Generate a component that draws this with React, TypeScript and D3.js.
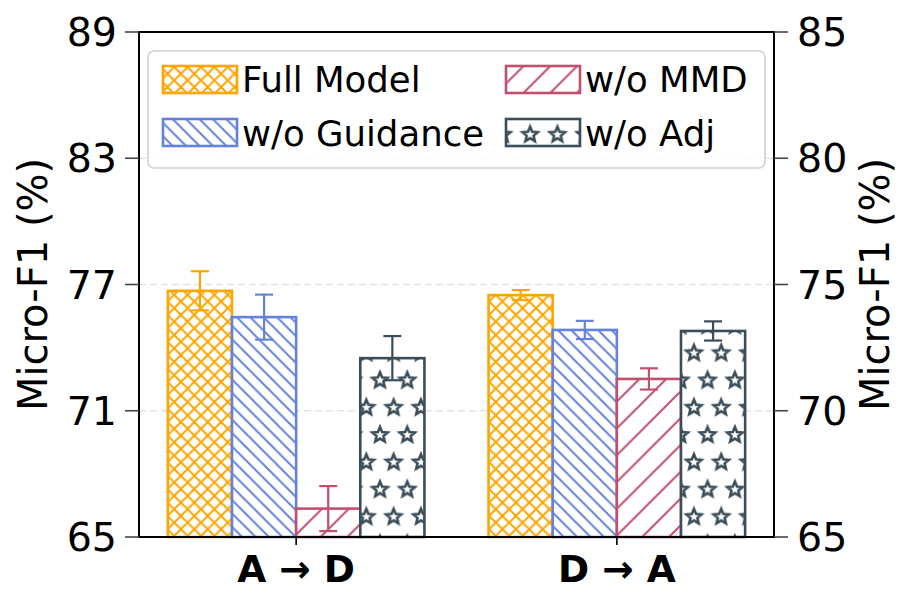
import React from 'react';
import * as d3 from 'd3';

// chart values
const CATEGORIES = ['A \u2192 D', 'D \u2192 A'];
const METHODS = ['Full Model', 'w/o Guidance', 'w/o MMD', 'w/o Adj'];
const A_TO_D = [76.7, 75.45, 66.35, 73.5];
const A_TO_D_ERR = [0.93, 1.07, 1.07, 1.05];
const D_TO_A = [74.58, 73.2, 71.26, 73.16];
const D_TO_A_ERR = [0.2, 0.36, 0.42, 0.38];
const LEFT_TICKS = [65, 71, 77, 83, 89];
const RIGHT_TICKS = [65, 70, 75, 80, 85];

const COLORS = ['#FFA500', '#6482DC', '#C1506F', '#3B4D59'];
const PATTERNS = ['hatch-x', 'hatch-nw', 'hatch-ne', 'hatch-star'];

const W = 914;
const H = 609;
const FONT = '"DejaVu Sans", sans-serif';

function starPoints(cx: number, cy: number, R: number) {
  const pts: string[] = [];
  for (let i = 0; i < 10; i++) {
    const a = -Math.PI / 2 + (i * Math.PI) / 5;
    const r = i % 2 === 0 ? R : R * 0.45;
    pts.push(`${(cx + r * Math.cos(a)).toFixed(2)},${(cy + r * Math.sin(a)).toFixed(2)}`);
  }
  return pts.join(' ');
}

function Patterns() {
  const s = 13.4; // dense hatch spacing
  const s2 = 26.8; // sparse hatch spacing
  const sw = 2;
  const sx = 27.3;
  const sy = 54.6;
  return (
    <defs>
      <pattern id="hatch-x" patternUnits="userSpaceOnUse" width={s} height={s}>
        <path
          d={`M0,${s} L${s},0 M${-s / 2},${s / 2} L${s / 2},${-s / 2} M${s / 2},${1.5 * s} L${1.5 * s},${s / 2}
              M0,0 L${s},${s} M${-s / 2},${s / 2} L${s / 2},${1.5 * s} M${s / 2},${-s / 2} L${1.5 * s},${s / 2}`}
          stroke={COLORS[0]} strokeWidth={sw} fill="none" />
      </pattern>
      <pattern id="hatch-nw" patternUnits="userSpaceOnUse" width={s} height={s}>
        <path d={`M0,0 L${s},${s} M${-s / 2},${s / 2} L${s / 2},${1.5 * s} M${s / 2},${-s / 2} L${1.5 * s},${s / 2}`}
          stroke={COLORS[1]} strokeWidth={sw} fill="none" />
      </pattern>
      <pattern id="hatch-ne" patternUnits="userSpaceOnUse" width={s2} height={s2}>
        <path d={`M0,${s2} L${s2},0 M${-s2 / 2},${s2 / 2} L${s2 / 2},${-s2 / 2} M${s2 / 2},${1.5 * s2} L${1.5 * s2},${s2 / 2}`}
          stroke={COLORS[2]} strokeWidth={sw} fill="none" />
      </pattern>
      <pattern id="hatch-star" patternUnits="userSpaceOnUse" width={sx} height={sy}
        patternTransform="translate(25.1,52.8)">
        {[[0, 0], [sx, 0], [0, sy], [sx, sy], [sx / 2, sy / 2]].map(([cx, cy], i) => (
          <polygon key={i} points={starPoints(cx, cy, 8)} fill="none"
            stroke={COLORS[3]} strokeWidth={2.6} strokeLinejoin="miter" />
        ))}
      </pattern>
    </defs>
  );
}

export default function App() {
  const left = 139;
  const right = 774;
  const top = 32;
  const bottom = 537;

  const x = d3.scaleLinear().domain([-0.49, 1.49]).range([left, right]);
  const yL = d3.scaleLinear().domain([65, 89]).range([bottom, top]);
  const yR = d3.scaleLinear().domain([65, 85]).range([bottom, top]);
  const barW = 0.2;
  const offsets = METHODS.map((_, i) => (i - 1.5) * barW);

  const groups = [
    { values: A_TO_D, errs: A_TO_D_ERR, y: yL, center: 0 },
    { values: D_TO_A, errs: D_TO_A_ERR, y: yR, center: 1 },
  ];

  const bw = x(barW) - x(0);

  return (
    <svg width={W} height={H} viewBox={`0 0 ${W} ${H}`}
      style={{ position: 'absolute', left: 0, top: 0, background: '#fff' }}>
      <Patterns />
      <rect x={0} y={0} width={W} height={H} fill="#fff" />

      {/* grid */}
      {LEFT_TICKS.map(t => (
        <line key={t} x1={left} x2={right} y1={yL(t)} y2={yL(t)}
          stroke="#e4e4e4" strokeWidth={1.5} strokeDasharray="7,4" />
      ))}

      {/* bars */}
      {groups.map((g, gi) => (
        <g key={gi}>
          {g.values.map((v, i) => {
            const x0 = x(g.center + offsets[i] - barW / 2);
            const yTop = g.y(v);
            return (
              <g key={i}>
                <rect x={x0} y={yTop} width={bw} height={bottom - yTop} fill="#fff" />
                <rect x={x0} y={yTop} width={bw} height={bottom - yTop}
                  fill={`url(#${PATTERNS[i]})`} stroke={COLORS[i]} strokeWidth={2.6} />
              </g>
            );
          })}
          {g.values.map((v, i) => {
            const cx = x(g.center + offsets[i]);
            const y1 = g.y(v - g.errs[i]);
            const y2 = g.y(v + g.errs[i]);
            return (
              <g key={'e' + i} stroke={COLORS[i]} strokeWidth={2.2}>
                <line x1={cx} x2={cx} y1={y1} y2={y2} />
                <line x1={cx - 9} x2={cx + 9} y1={y1} y2={y1} />
                <line x1={cx - 9} x2={cx + 9} y1={y2} y2={y2} />
              </g>
            );
          })}
        </g>
      ))}

      {/* spines */}
      <rect x={left} y={top} width={right - left} height={bottom - top}
        fill="none" stroke="#000" strokeWidth={2} />

      {/* left axis */}
      {LEFT_TICKS.map(t => (
        <g key={'l' + t}>
          <line x1={left - 14} x2={left} y1={yL(t)} y2={yL(t)} stroke="#444" strokeWidth={1.6} />
          <text x={left - 22} y={yL(t)} textAnchor="end" dominantBaseline="central"
            fontFamily={FONT} fontSize={39.5}>{t}</text>
        </g>
      ))}
      {/* right axis */}
      {RIGHT_TICKS.map(t => (
        <g key={'r' + t}>
          <line x1={right} x2={right + 14} y1={yR(t)} y2={yR(t)} stroke="#444" strokeWidth={1.6} />
          <text x={right + 23} y={yR(t)} textAnchor="start" dominantBaseline="central"
            fontFamily={FONT} fontSize={39.5}>{t}</text>
        </g>
      ))}
      {/* x axis */}
      {CATEGORIES.map((c, i) => (
        <g key={c}>
          <line x1={x(i)} x2={x(i)} y1={bottom} y2={bottom + 8} stroke="#000" strokeWidth={1.6} />
          <text x={x(i)} y={582} textAnchor="middle" fontFamily={FONT} fontSize={37.5}
            fontWeight="bold">{c}</text>
        </g>
      ))}

      {/* axis labels */}
      <text transform={`translate(47,${(top + bottom) / 2}) rotate(-90)`} textAnchor="middle"
        fontFamily={FONT} fontSize={40}>Micro-F1 (%)</text>
      <text transform={`translate(889,${(top + bottom) / 2}) rotate(-90)`} textAnchor="middle"
        fontFamily={FONT} fontSize={40}>Micro-F1 (%)</text>

      {/* legend */}
      <rect x={148} y={51} width={617} height={117} rx={6} fill="#fff" fillOpacity={0.85}
        stroke="#d0d0d0" strokeWidth={1.6} />
      {METHODS.map((m, i) => {
        const col = i < 2 ? 0 : 1;
        const row = i % 2;
        const hx = col === 0 ? 163 : 506;
        const hy = row === 0 ? 66 : 119;
        return (
          <g key={m}>
            <rect x={hx} y={hy} width={74} height={27} fill="#fff" />
            <rect x={hx} y={hy} width={74} height={27} fill={`url(#${PATTERNS[i]})`}
              stroke={COLORS[i]} strokeWidth={2.6} />
            <text x={hx + 79} y={row === 0 ? 92 : 146} fontFamily={FONT} fontSize={35.5}>{m}</text>
          </g>
        );
      })}
    </svg>
  );
}
